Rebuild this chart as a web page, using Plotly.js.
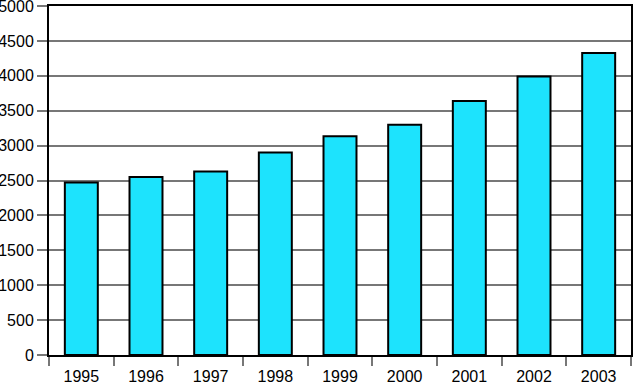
<!DOCTYPE html>
<html><head><meta charset="utf-8">
<script src="https://cdn.plot.ly/plotly-3.0.1.min.js"></script>
<style>html,body{margin:0;padding:0;background:#fff}#c{width:633px;height:382px}</style>
</head><body><div id="c"></div>
<script>
var years = ['1995','1996','1997','1998','1999','2000','2001','2002','2003'];
var values = [2470, 2550, 2630, 2900, 3135, 3300, 3640, 3990, 4325];
var yTicks = [0,500,1000,1500,2000,2500,3000,3500,4000,4500,5000];

Plotly.newPlot('c', [{
  type: 'bar', x: years, y: values,
  marker: {color: '#1de3fd', line: {color: '#000', width: 2}},
  hoverinfo: 'none'
}], {
  width: 633, height: 382,
  margin: {l: 49, r: 2, t: 6, b: 27, pad: 0},
  paper_bgcolor: '#fff', plot_bgcolor: '#fff',
  bargap: 0.49,
  showlegend: false,
  font: {family: 'Liberation Sans, Arial, sans-serif', size: 16, color: '#000'},
  xaxis: {
    type: 'category', tickson: 'boundaries', ticks: 'outside', ticklen: 9, tickwidth: 2, tickcolor: '#777',
    ticklabelstandoff: 6, ticklabeloverflow: 'allow',
    showline: true, linecolor: '#000', linewidth: 2, mirror: true,
    showgrid: false, zeroline: false, fixedrange: true
  },
  yaxis: {
    range: [0, 5000], tickvals: yTicks, ticktext: yTicks.map(String),
    ticks: 'outside', ticklen: 10, tickwidth: 2, tickcolor: '#777',
    ticklabeloverflow: 'allow',
    showgrid: true, gridcolor: '#777', gridwidth: 2,
    showline: true, linecolor: '#000', linewidth: 2, mirror: true,
    zeroline: false, fixedrange: true
  }
}, {displayModeBar: false, staticPlot: true});
</script></body></html>
